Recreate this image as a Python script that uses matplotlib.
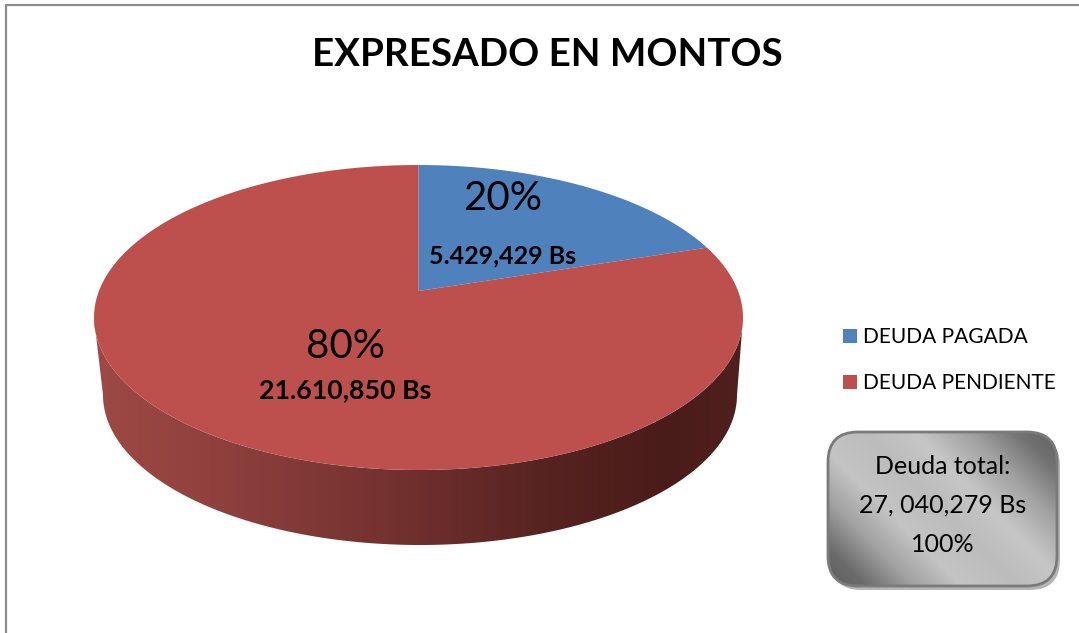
import matplotlib
matplotlib.use('Agg')
import matplotlib.pyplot as plt
import numpy as np
from matplotlib.colors import LinearSegmentedColormap
from matplotlib.patches import FancyBboxPatch, Rectangle

plt.rcParams['font.family'] = ['Lato', 'DejaVu Sans']

labels = ['DEUDA PAGADA', 'DEUDA PENDIENTE']
percents = [20, 80]
amounts = ['5.429,429 Bs', '21.610,850 Bs']
colors = ['#4f81bd', '#bd504d']
title = 'EXPRESADO EN MONTOS'
total_lines = ['Deuda total:', '27, 040,279 Bs', '100%']

# pie geometry in pixels, top ellipse seen in perspective
cx, cy = 418.5, 317.5
rx, ry = 324.5, 152.5
apex = 26.5
a = apex / ry
s = rx * np.sqrt(1 - a * a)
# bottom rim is a little smaller than the top
bcx, bcy = 420, 395
brx, bry = 317, 150


def project(theta):
    # unit circle -> screen, so the slice tip sits above the ellipse centre
    X = np.cos(theta)
    Y = np.sin(theta)
    d = 1 + a * Y
    return cx + s * X / d, cy - (ry * Y + apex) / d


fig = plt.figure(figsize=(10.79, 6.33), dpi=100)
ax = fig.add_axes([0, 0, 1, 1])
ax.set_xlim(0, 1079)
ax.set_ylim(633, 0)
ax.axis('off')

# outer chart border, only top and left are in the crop
ax.plot([6, 6, 1079], [633, 4.5, 4.5], color='#8c8c8c', lw=1.6, zorder=1)

# side of the pie, gradient clipped to the extruded outline
tt = np.linspace(np.pi, 2 * np.pi, 300)
side_x = np.r_[bcx + brx * np.cos(tt), (cx + rx * np.cos(tt))[::-1]]
side_y = np.r_[bcy - bry * np.sin(tt), (cy - ry * np.sin(tt))[::-1]]
side_cmap = LinearSegmentedColormap.from_list(
    'side', [(0, '#9e4945'), (0.2, '#8e403d'), (0.45, '#743230'), (0.7, '#562321'), (0.88, '#4a1c19'), (1, '#4f201d')])
side_poly = ax.fill(side_x, side_y, color='none', zorder=2)[0]
im = ax.imshow(np.linspace(0, 1, 256).reshape(1, -1), cmap=side_cmap, aspect='auto',
               extent=[cx - rx, cx + rx, 550, cy - 2], zorder=2)
im.set_clip_path(side_poly)
ax.set_xlim(0, 1079)
ax.set_ylim(633, 0)

# top of the pie, slices clockwise from 12 o'clock
start = np.pi / 2
for pct, col in zip(percents, colors):
    end = start - 2 * np.pi * pct / 100
    th = np.linspace(start, end, 200)
    px, py = project(th)
    ax.fill(np.r_[cx, px], np.r_[cy - apex, py], color=col, lw=0, zorder=3)
    start = end

# labels on the pie
ax.text(503, 199, f'{percents[0]}%', fontsize=29, color='black', ha='center', va='center', zorder=5)
ax.text(503, 256, amounts[0], fontsize=18, fontweight='bold', color='black', ha='center', va='center', zorder=5)
ax.text(345, 346, f'{percents[1]}%', fontsize=29, color='black', ha='center', va='center', zorder=5)
ax.text(345, 390, amounts[1], fontsize=19.3, fontweight='bold', color='black', ha='center', va='center', zorder=5)

ax.text(547, 55, title, fontsize=27.7, fontweight='bold', color='black', ha='center', va='center', zorder=5)

# legend
for yy, lab, col in zip([336, 382], labels, colors):
    ax.add_patch(Rectangle((843, yy - 7), 14, 14, fc=col, ec='none', zorder=5))
    ax.text(863, yy + 1, lab, fontsize=15, color='black', ha='left', va='center', zorder=5)

# total box with shadow and metallic gradient
box = (828, 432, 229, 154)
rad = 30
ax.add_patch(FancyBboxPatch((box[0] + rad + 3, box[1] + rad + 4), box[2] - 2 * rad, box[3] - 2 * rad,
                            boxstyle=f'round,pad={rad},rounding_size={rad}', fc='#b5b5b5', ec='none', zorder=6))
bx, by = np.meshgrid(np.linspace(0, 1, 230), np.linspace(0, 1, 155))
t = (bx * box[2] + (1 - by) * box[3]) / (box[2] + box[3])
box_cmap = LinearSegmentedColormap.from_list(
    'box', [(0, '#5c5c5c'), (0.1, '#6c6c6c'), (0.22, '#a0a0a0'), (0.35, '#c4c4c4'), (0.5, '#bcbcbc'),
            (0.63, '#c6c6c6'), (0.77, '#a2a2a2'), (0.9, '#727272'), (1, '#626262')])
patch = FancyBboxPatch((box[0] + rad, box[1] + rad), box[2] - 2 * rad, box[3] - 2 * rad,
                       boxstyle=f'round,pad={rad},rounding_size={rad}', fc='none', ec='#7a7a7a', lw=2, zorder=8)
ax.add_patch(patch)
grad = ax.imshow(t, cmap=box_cmap, vmin=0, vmax=1, aspect='auto',
                 extent=[box[0], box[0] + box[2], box[1] + box[3], box[1]], zorder=7)
grad.set_clip_path(patch)
ax.set_xlim(0, 1079)
ax.set_ylim(633, 0)
for yy, line in zip([467, 505, 545], total_lines):
    ax.text(943, yy, line, fontsize=18, color='black', ha='center', va='center', zorder=9)

fig.savefig('out.png', dpi=100)
